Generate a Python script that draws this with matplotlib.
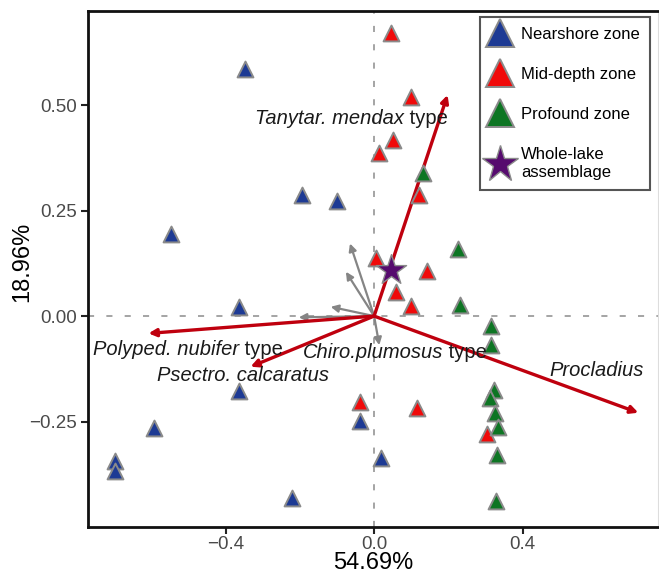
import matplotlib
matplotlib.use("Agg")
import matplotlib.pyplot as plt
from matplotlib.lines import Line2D

plt.rcParams['font.family'] = ['Liberation Sans', 'DejaVu Sans']

# site scores on the first two axes
nearshore_x = [-0.347, -0.194, -0.547, -0.099, -0.365, -0.365, -0.592, -0.698, -0.698, -0.221, -0.039, 0.018]
nearshore_y = [0.585, 0.288, 0.194, 0.273, 0.022, -0.178, -0.266, -0.344, -0.367, -0.432, -0.249, -0.337]

middepth_x = [0.045, 0.099, 0.050, 0.013, 0.122, 0.005, 0.142, 0.059, 0.099, -0.039, 0.115, 0.305]
middepth_y = [0.670, 0.520, 0.417, 0.387, 0.288, 0.138, 0.107, 0.058, 0.025, -0.203, -0.217, -0.280]

profound_x = [0.131, 0.225, 0.232, 0.314, 0.315, 0.324, 0.311, 0.326, 0.335, 0.332, 0.329]
profound_y = [0.340, 0.158, 0.026, -0.024, -0.068, -0.174, -0.193, -0.229, -0.262, -0.329, -0.438]

wholelake_x = [0.045]
wholelake_y = [0.109]

# taxa vectors (main taxa in red, the rest in grey)
main_taxa = ['Tanytar. mendax', 'Procladius', 'Polyped. nubifer', 'Psectro. calcaratus']
main_x = [0.198, 0.712, -0.608, -0.333]
main_y = [0.524, -0.229, -0.041, -0.120]

minor_x = [-0.065, -0.076, -0.117, -0.203, 0.014]
minor_y = [0.172, 0.105, 0.022, -0.003, -0.069]

axis1_pct = '54.69%'
axis2_pct = '18.96%'

fig = plt.figure(figsize=(6.59, 5.75), dpi=100)
ax = fig.add_axes([0.1335, 0.084, 0.865, 0.897])

ax.axhline(0, color='#8c8c8c', lw=1.1, ls=(0, (4, 8)), zorder=1)
ax.axvline(0, color='#8c8c8c', lw=1.1, ls=(0, (4, 8)), zorder=1)

for tx, ty in zip(minor_x, minor_y):
    ax.annotate('', xy=(tx, ty), xytext=(0, 0),
                arrowprops=dict(arrowstyle='-|>', color='#858585', lw=1.6,
                                mutation_scale=11, shrinkA=0, shrinkB=0),
                zorder=2)

for tx, ty in zip(main_x, main_y):
    ax.annotate('', xy=(tx, ty), xytext=(0, 0),
                arrowprops=dict(arrowstyle='-|>', color='#bf000e', lw=2.4,
                                mutation_scale=11, shrinkA=0, shrinkB=0),
                zorder=3)

tri = dict(marker='^', s=130, edgecolors='#8a8a8a', linewidths=1.4, zorder=4)
ax.scatter(nearshore_x, nearshore_y, c='#1d3a94', **tri)
ax.scatter(middepth_x, middepth_y, c='#f00a0a', **tri)
ax.scatter(profound_x, profound_y, c='#0d7523', **tri)
ax.scatter(wholelake_x, wholelake_y, marker='*', s=520, c='#560b6e',
           edgecolors='#8a8a8a', linewidths=1.0, zorder=5)

# taxa labels, genus part in italics
lab = dict(fontsize=14.5, color='#1a1a1a', zorder=6)
t = ax.text(-0.322, 0.467, 'Tanytar. mendax', style='italic', va='center', **lab)
ax.annotate(' type', xy=(1, 0.5), xycoords=t, va='center', **lab)
t = ax.text(-0.757, -0.078, 'Polyped. nubifer', style='italic', va='center', **lab)
ax.annotate(' type', xy=(1, 0.5), xycoords=t, va='center', **lab)
t = ax.text(-0.193, -0.086, 'Chiro.plumosus', style='italic', va='center', **lab)
ax.annotate(' type', xy=(1, 0.5), xycoords=t, va='center', **lab)
ax.text(-0.585, -0.140, 'Psectro. calcaratus', style='italic', va='center', **lab)
ax.text(0.472, -0.128, 'Procladius', style='italic', va='center', **lab)

ax.set_xlim(-0.771, 0.765)
ax.set_ylim(-0.499, 0.723)
ax.set_xticks([-0.4, 0.0, 0.4])
ax.set_yticks([-0.25, 0.0, 0.25, 0.5])
ax.set_xticklabels(['\u22120.4', '0.0', '0.4'])
ax.set_yticklabels(['\u22120.25', '0.00', '0.25', '0.50'])
ax.tick_params(labelsize=13.5, labelcolor='#4a4a4a', length=5, width=1.5, color='#222222')
ax.tick_params(axis='x', pad=2)
ax.tick_params(axis='y', pad=3)

for side in ['left', 'bottom', 'top']:
    ax.spines[side].set_linewidth(2.0)
    ax.spines[side].set_color('#111111')
ax.spines['right'].set_linewidth(0.8)
ax.spines['right'].set_color('#dddddd')

ax.set_xlabel(axis1_pct, fontsize=17, labelpad=-1)
ax.set_ylabel(axis2_pct, fontsize=17)
ax.yaxis.set_label_coords(-0.096, 0.513)

handles = [
    Line2D([], [], ls='none', marker='^', ms=20, mfc='#1d3a94', mec='#8a8a8a', mew=1.4),
    Line2D([], [], ls='none', marker='^', ms=20, mfc='#f00a0a', mec='#8a8a8a', mew=1.4),
    Line2D([], [], ls='none', marker='^', ms=20, mfc='#0d7523', mec='#8a8a8a', mew=1.4),
    Line2D([], [], ls='none', marker='*', ms=28, mfc='#560b6e', mec='#8a8a8a', mew=1.0),
]
names = ['Nearshore zone', 'Mid-depth zone', 'Profound zone', 'Whole-lake\nassemblage']
leg = ax.legend(handles, names, loc='upper right', bbox_to_anchor=(0.986, 0.989),
                fontsize=12, frameon=True, fancybox=False, framealpha=1,
                edgecolor='#555555', labelspacing=1.5, handlelength=1.3,
                handletextpad=0.6, borderpad=0.6, borderaxespad=0)
leg.get_frame().set_linewidth(1.5)
leg.get_texts()[3].set_linespacing(1.3)

fig.savefig('out.png', dpi=100)
